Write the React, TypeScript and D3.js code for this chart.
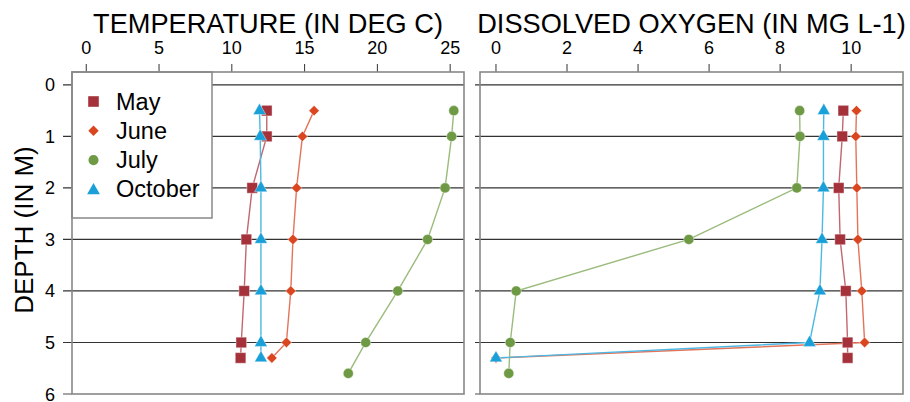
import React from 'react';
import * as d3 from 'd3';

const months = ['May', 'June', 'July', 'October'];
const colors = ['#a5323b', '#d9461f', '#6f9a45', '#19a0d8'];
const lineColors = ['#c2676f', '#e2745a', '#9abb7c', '#4db8e4'];
const shapes = ['square', 'diamond', 'circle', 'triangle'];

const depthsStd = [0.5, 1, 2, 3, 4, 5, 5.3];
const depthsJuly = [0.5, 1, 2, 3, 4, 5, 5.6];

const tempMay = [12.4, 12.4, 11.4, 11.0, 10.85, 10.65, 10.6];
const tempJune = [15.65, 14.85, 14.45, 14.2, 14.05, 13.75, 12.75];
const tempJuly = [25.25, 25.1, 24.65, 23.45, 21.4, 19.2, 18.0];
const tempOct = [11.9, 11.95, 12.0, 12.0, 12.0, 12.0, 12.0];

const doMay = [9.78, 9.75, 9.65, 9.69, 9.85, 9.9, 9.9];
const doJune = [10.15, 10.13, 10.16, 10.19, 10.3, 10.38, 0.0];
const doJuly = [8.55, 8.56, 8.47, 5.43, 0.57, 0.4, 0.36];
const doOct = [9.23, 9.22, 9.22, 9.18, 9.12, 8.83, 0.0];

const tempTicks = [0, 5, 10, 15, 20, 25];
const doTicks = [0, 2, 4, 6, 8, 10];
const depthTicks = [0, 1, 2, 3, 4, 5, 6];

const FONT = '"Liberation Sans", Arial, sans-serif';

function markerPath(shape: string): string {
  switch (shape) {
    case 'square':
      return 'M-5.3,-5.3H5.3V5.3H-5.3Z';
    case 'diamond':
      return 'M0,-5.2L5.2,0L0,5.2L-5.2,0Z';
    case 'circle':
      return d3.symbol(d3.symbolCircle, 80)() as string;
    default:
      return 'M0,-7.3L6.4,3.9L-6.4,3.9Z';
  }
}

type Series = { values: number[]; depths: number[] };

function Panel(props: {
  x0: number; x1: number; domain: [number, number]; ticks: number[];
  title: string; series: Series[]; y: d3.ScaleLinear<number, number>;
  tickLeft: number; legend?: boolean;
}) {
  const { x0, x1, domain, ticks, title, series, y, tickLeft, legend } = props;
  const x = d3.scaleLinear().domain(domain).range([x0, x1]);
  const top = y.range()[0];
  const bottom = y.range()[1];
  const line = d3.line<[number, number]>().x(d => x(d[0])).y(d => y(d[1]));
  return (
    <g>
      <text x={(x0 + x1) / 2} y={32.5} textAnchor="middle" fontSize={27.2} fontFamily={FONT} fill="#000">{title}</text>
      {ticks.map(t => (
        <g key={'xt' + t}>
          <line x1={x(t)} x2={x(t)} y1={top - 8} y2={top} stroke="#333" strokeWidth={1} />
          <text x={x(t)} y={54} textAnchor="middle" fontSize={18} fontFamily={FONT} fill="#000">{t}</text>
        </g>
      ))}
      {depthTicks.slice(0, 6).map(t => (
        <line key={'g' + t} x1={tickLeft} x2={x1} y1={y(t)} y2={y(t)} stroke="#333" strokeWidth={1.2} />
      ))}
      <line x1={tickLeft} x2={x0} y1={y(6)} y2={y(6)} stroke="#888" strokeWidth={1.5} />
      {series.map((s, i) => {
        const pts = s.values.map((v, k) => [v, s.depths[k]] as [number, number]);
        return (
          <path key={'l' + i} d={line(pts) as string} fill="none" stroke={lineColors[i]} strokeWidth={1.4} />
        );
      })}
      {series.map((s, i) =>
        s.values.map((v, k) => (
          <path key={'m' + i + '-' + k} d={markerPath(shapes[i])} transform={`translate(${x(v)},${y(s.depths[k])})`}
            fill={colors[i]} stroke="#ffffff" strokeOpacity={0.5} strokeWidth={0.8} />
        ))
      )}
      {legend && (
        <g>
          <rect x={x0} y={top} width={140} height={146} fill="#fff" stroke="#888" strokeWidth={1.5} />
          {months.map((m, i) => (
            <g key={'lg' + i} transform={`translate(0,${101.5 + i * 29.3})`}>
              <path d={markerPath(shapes[i])} transform={`translate(${x0 + 21.5},${i === 3 ? 1 : 0})`} fill={colors[i]} />
              <text x={x0 + 44} y={8} fontSize={23.5} fontFamily={FONT} fill="#000">{m}</text>
            </g>
          ))}
        </g>
      )}
      <rect x={x0} y={top} width={x1 - x0} height={bottom - top} fill="none" stroke="#888" strokeWidth={1.6} />
    </g>
  );
}

export default function App() {
  const y = d3.scaleLinear().domain([-0.25, 6]).range([72, 394]);
  const tempSeries: Series[] = [
    { values: tempMay, depths: depthsStd },
    { values: tempJune, depths: depthsStd },
    { values: tempJuly, depths: depthsJuly },
    { values: tempOct, depths: depthsStd },
  ];
  const doSeries: Series[] = [
    { values: doMay, depths: depthsStd },
    { values: doJune, depths: depthsStd },
    { values: doJuly, depths: depthsJuly },
    { values: doOct, depths: depthsStd },
  ];
  return (
    <svg width={910} height={402} style={{ position: 'absolute', left: 0, top: 0, background: '#fff' }}>
      <rect width={910} height={402} fill="#fff" />
      {depthTicks.map(t => (
        <text key={'yt' + t} x={55} y={y(t) + 6.5} textAnchor="end" fontSize={18} fontFamily={FONT} fill="#000">{t}</text>
      ))}
      <text transform={`translate(33,${230}) rotate(-90)`} textAnchor="middle" fontSize={26} fontFamily={FONT} fill="#000">DEPTH (IN M)</text>
      <Panel x0={72} x1={464} domain={[-0.98, 25.95]} ticks={tempTicks} title="TEMPERATURE (IN DEG C)"
        series={tempSeries} y={y} tickLeft={63} legend />
      <Panel x0={480} x1={903} domain={[-0.45, 11.46]} ticks={doTicks} title="DISSOLVED OXYGEN (IN MG L-1)"
        series={doSeries} y={y} tickLeft={475} />
    </svg>
  );
}
